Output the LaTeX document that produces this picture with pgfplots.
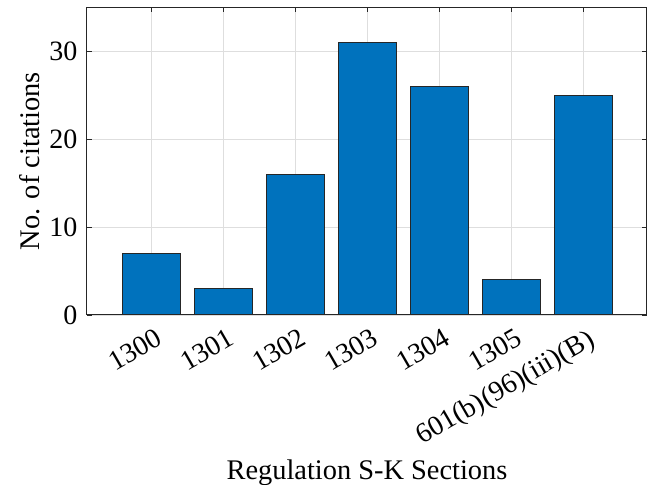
\documentclass[border=0pt]{standalone}
\usepackage{pgfplots}
\pgfplotsset{compat=1.18}
\usepackage{fontspec}
\setmainfont{Liberation Serif}
\definecolor{mblue}{RGB}{0,114,189}
\definecolor{axgray}{RGB}{38,38,38}
\pgfplotsset{
 layers/gridbelow/.define layer set={axis background,axis grid,pre main,main,axis ticks,axis lines,axis tick labels,axis descriptions,axis foreground}{},
}
\begin{document}
\fontsize{14}{16}\selectfont
\begin{tikzpicture}
\begin{axis}[
 set layers=gridbelow,
 width=280pt, height=153.75pt, scale only axis,
 xmin=0.1, xmax=7.88, ymin=0, ymax=35,
 xtick={1,2,3,4,5,6,7},
 xticklabels={1300,1301,1302,1303,1304,1305,601(b)(96)(iii)(B)},
 xticklabel shift=4pt,
 x tick label style={xshift=2pt, rotate=30, anchor=north east, inner sep=1.5pt, font=\fontsize{14}{16}\selectfont},
 y tick label style={font=\fontsize{14}{16}\selectfont},
 label style={font=\fontsize{14.2}{16}\selectfont},
 ytick={0,10,20,30},
 tick align=inside, major tick length=2.5pt,
 tick style={axgray, line width=0.4pt},
 axis line style={axgray, line width=0.5pt},
 xmajorgrids, ymajorgrids,
 grid style={black!13, line width=0.4pt},
 xlabel={Regulation S-K Sections},
 ylabel={No. of citations},
 ylabel style={yshift=-5pt},
 xlabel style={yshift=2pt},
 /pgf/number format/assume math mode=true,
]
\addplot[ybar, bar width=0.8, fill=mblue, draw=black!85, line width=0.5pt]
 coordinates {(1,7)(2,3)(3,16)(4,31)(5,26)(6,4)(7,25)};
\end{axis}
\pgfresetboundingbox
\path (current axis.south west) ++(-43.5pt,-85pt) rectangle ++(325pt,242.5pt);
\end{tikzpicture}
\end{document}
